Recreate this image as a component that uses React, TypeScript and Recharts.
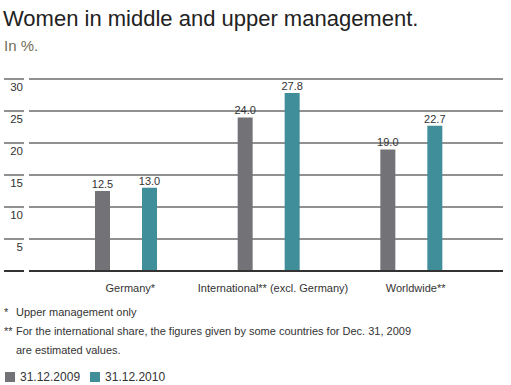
import React from "react";
import { BarChart, Bar, XAxis, YAxis, CartesianGrid, LabelList, ReferenceLine } from "recharts";

const categories = ["Germany*", "International** (excl. Germany)", "Worldwide**"];
const values2009 = [12.5, 24.0, 19.0];
const values2010 = [13.0, 27.8, 22.7];
const yTicks = [0, 5, 10, 15, 20, 25, 30];
const seriesNames = ["31.12.2009", "31.12.2010"];
const footnotes = [
    ["*", "Upper management only"],
    ["**", "For the international share, the figures given by some countries for Dec. 31, 2009"],
    ["", "are estimated values."],
];

const FONT = '"Liberation Sans", Arial, sans-serif';
const GRAY = "#737377";
const TEAL = "#3f8e9a";
const COLORS = [GRAY, TEAL];

const data = categories.map((name, i) => ({
    name,
    y2009: values2009[i],
    y2010: values2010[i],
}));

function YTick({ y, payload }: any) {
    const v = payload.value;
    return (
        <g>
            <line x1={4} x2={24} y1={y} y2={y} stroke={v === 0 ? "#333" : "#222"} strokeWidth={v === 0 ? 2 : 1} />
            {v !== 0 && (
                <text x={23} y={y + 12} textAnchor="end" fontSize={11.5} fontFamily={FONT} fill="#333">
                    {v}
                </text>
            )}
        </g>
    );
}

function XTick({ x, y, payload }: any) {
    return (
        <text x={x + 4} y={y + 21} textAnchor="middle" fontSize={11} fontFamily={FONT} fill="#333">
            {payload.value}
        </text>
    );
}

export default function App() {
    return (
        <div style={{ position: "absolute", left: 0, top: 0, width: 511, height: 385, background: "#fff" }}>
            <div style={{ position: "absolute", left: 3, top: 8, fontFamily: FONT, fontSize: 22, lineHeight: "22px", color: "#222", whiteSpace: "nowrap" }}>
                Women in middle and upper management.
            </div>
            <div style={{ position: "absolute", left: 4, top: 38, fontFamily: FONT, fontSize: 15, lineHeight: "15px", color: "#6f6f58" }}>
                In %.
            </div>
            <BarChart
                width={511}
                height={300}
                data={data}
                margin={{ top: 79, right: 8, bottom: 4, left: 0 }}
                barSize={15}
                barGap={32}
            >
                <CartesianGrid horizontal vertical={false} stroke="#222" strokeWidth={1} />
                <XAxis
                    dataKey="name"
                    height={25}
                    axisLine={false}
                    tickLine={false}
                    tickSize={0}
                    tickMargin={0}
                    padding={{ left: 26, right: 20 }}
                    tick={<XTick />}
                    interval={0}
                />
                <YAxis
                    width={29}
                    domain={[0, 30]}
                    ticks={yTicks}
                    axisLine={false}
                    tickLine={false}
                    tick={<YTick />}
                />
                <ReferenceLine y={0} stroke="#333" strokeWidth={2} />
                <Bar dataKey="y2009" name={seriesNames[0]} fill={GRAY} isAnimationActive={false}>
                    <LabelList dataKey="y2009" position="top" offset={3} fontSize={11} fontFamily={FONT} fill="#333" formatter={(v: any) => Number(v).toFixed(1)} />
                </Bar>
                <Bar dataKey="y2010" name={seriesNames[1]} fill={TEAL} isAnimationActive={false}>
                    <LabelList dataKey="y2010" position="top" offset={3} fontSize={11} fontFamily={FONT} fill="#333" formatter={(v: any) => Number(v).toFixed(1)} />
                </Bar>
            </BarChart>
            <div style={{ position: "absolute", left: 4, top: 303, fontFamily: FONT, fontSize: 11, lineHeight: "19px", color: "#333" }}>
                {footnotes.map(([mark, text], i) => (
                    <div key={i} style={{ display: "flex", whiteSpace: "nowrap" }}>
                        <span style={{ width: 12, display: "inline-block" }}>{mark}</span>
                        <span>{text}</span>
                    </div>
                ))}
            </div>
            <div style={{ position: "absolute", left: 5, top: 370, display: "flex", alignItems: "center", fontFamily: FONT, fontSize: 12, color: "#333" }}>
                {seriesNames.map((n, i) => (
                    <div key={n} style={{ display: "flex", alignItems: "center", marginRight: 10 }}>
                        <span style={{ width: 10, height: 10, background: COLORS[i], display: "inline-block", marginRight: 5 }} />
                        {n}
                    </div>
                ))}
            </div>
        </div>
    );
}
